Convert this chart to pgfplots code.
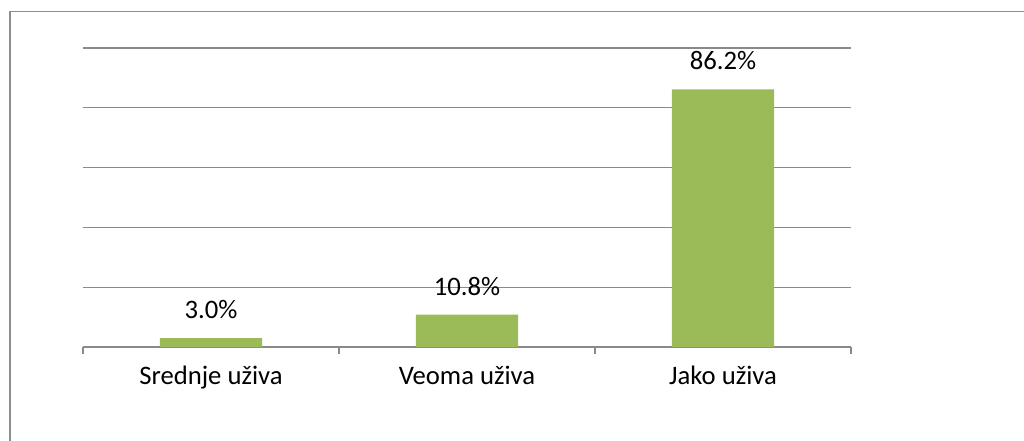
\documentclass[border=0pt]{standalone}
\usepackage{pgfplots}
\pgfplotsset{compat=1.18}
\usepackage{fontspec}
\setmainfont{Carlito}
\definecolor{bargreen}{HTML}{9BBB59}
\definecolor{gridgray}{HTML}{898989}
\definecolor{framegray}{HTML}{8E8E8E}
\begin{document}
\begin{tikzpicture}
\path[use as bounding box] (0,0) rectangle (768pt,-330.75pt);
\draw[framegray, line width=1.4pt] (7.5pt,-340pt) -- (7.5pt,-8.6pt) -- (780pt,-8.6pt);
\begin{axis}[
  at={(62.25pt,-260.25pt)}, anchor=south west,
  scale only axis, width=576pt, height=224.25pt,
  xmin=-0.5, xmax=2.5, ymin=0, ymax=100,
  axis x line*=bottom, axis y line*=left,
  x axis line style={gridgray, line width=1pt},
  y axis line style={draw=none},
  xtick={0,1,2},
  xticklabels={Srednje uživa, Veoma uživa, Jako uživa},
  minor xtick={-0.5,0.5,1.5,2.5},
  xtick align=outside,
  major tick length=0pt,
  minor tick length=5pt,
  xtick style={gridgray, line width=1pt},
  ytick={20,40,60,80,100},
  yticklabels={},
  ytick style={draw=none},
  ymajorgrids,
  grid style={gridgray, line width=1pt},
  ticklabel style={font=\fontsize{20}{24}\selectfont, text=black},
  xticklabel style={yshift=-11pt},
  /pgf/number format/assume math mode=true,
  ybar, bar width=0.4,
  nodes near coords={\pgfmathprintnumber[fixed,fixed zerofill,precision=1]{\pgfplotspointmeta}\%},
  every node near coord/.append style={font=\fontsize{20}{24}\selectfont, text=black, yshift=11pt},
  clip=false,
]
\addplot[fill=bargreen, draw=none] coordinates {(0,3.0) (1,10.8) (2,86.2)};
\end{axis}
\end{tikzpicture}
\end{document}
